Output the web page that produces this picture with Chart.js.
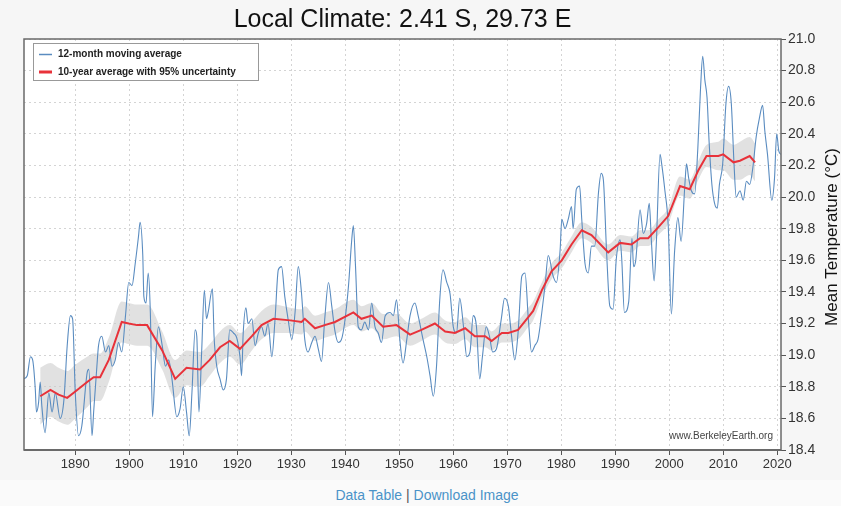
<!DOCTYPE html>
<html>
<head>
<meta charset="utf-8">
<script src="https://cdn.jsdelivr.net/npm/chart.js@4.4.0/dist/chart.umd.min.js"></script>
<style>
  body { margin: 0; background: #fafafa; font-family: "Liberation Sans", Arial, sans-serif; }
  #wrap { position: relative; width: 841px; height: 480px; background: #f6f6f6; }
  #links { position: absolute; top: 487px; left: 0; width: 841px; padding-left: 13px; box-sizing: border-box;
           text-align: center; font-size: 14px; color: #555; }
  #links a { color: #4a93c8; text-decoration: none; }
</style>
</head>
<body>
<div id="wrap"><canvas id="chart" width="841" height="480"></canvas></div>
<div id="links"><a href="#">Data Table</a> | <a href="#">Download Image</a></div>

<script>
  var FONT = '"Liberation Sans", Arial, sans-serif';
  var titleText = 'Local Climate: 2.41 S, 29.73 E';
  var yTitle = 'Mean Temperature (°C)';
  var watermark = 'www.BerkeleyEarth.org';

  var xTicks = [1890, 1900, 1910, 1920, 1930, 1940, 1950, 1960, 1970, 1980, 1990, 2000, 2010, 2020];
  var yTicks = [18.4, 18.6, 18.8, 19.0, 19.2, 19.4, 19.6, 19.8, 20.0, 20.2, 20.4, 20.6, 20.8, 21.0];

  // 12-month moving average
  var blueYears = [
    1880.4, 1881.1, 1881.7, 1882.1, 1882.6, 1882.8, 1883.2, 1883.5,
    1883.8, 1884.4, 1885.1, 1885.7, 1886.3, 1887.2, 1887.9, 1888.5,
    1889.1, 1889.5, 1890.0, 1890.6, 1891.2, 1892.2, 1892.5, 1893.1,
    1893.4, 1894.0, 1894.3, 1894.9, 1895.6, 1896.2, 1896.8, 1897.4,
    1898.0, 1898.6, 1899.3, 1899.9, 1900.5, 1901.1, 1901.7, 1902.0,
    1902.5, 1902.7, 1903.1, 1903.5, 1903.9, 1904.3, 1904.8, 1905.4,
    1906.1, 1906.7, 1907.3, 1907.9, 1908.8, 1909.4, 1910.0, 1910.6,
    1911.1, 1911.6, 1912.2, 1912.5, 1912.9, 1913.4, 1913.9, 1914.3,
    1914.6, 1915.4, 1915.7, 1916.2, 1916.8, 1917.4, 1918.0, 1918.6,
    1919.3, 1919.9, 1920.5, 1920.8, 1921.1, 1921.6, 1922.0, 1922.7,
    1923.3, 1923.9, 1924.5, 1925.1, 1925.7, 1926.4, 1927.0, 1927.6,
    1928.2, 1928.8, 1929.4, 1930.1, 1930.7, 1931.3, 1931.9, 1932.5,
    1933.1, 1933.8, 1934.4, 1935.0, 1935.6, 1936.2, 1936.9, 1937.5,
    1938.1, 1938.7, 1939.3, 1939.9, 1940.6, 1941.2, 1941.5, 1941.9,
    1942.4, 1943.0, 1943.6, 1944.3, 1944.9, 1945.5, 1946.1, 1946.7,
    1947.4, 1948.3, 1948.9, 1949.5, 1950.1, 1950.7, 1951.4, 1952.0,
    1952.9, 1953.5, 1954.4, 1955.1, 1955.7, 1956.3, 1956.9, 1957.5,
    1958.1, 1958.8, 1959.4, 1960.0, 1960.6, 1961.2, 1961.9, 1962.5,
    1963.1, 1963.7, 1964.3, 1964.9, 1965.4, 1966.1, 1966.7, 1967.3,
    1968.0, 1968.9, 1969.5, 1970.2, 1970.8, 1971.4, 1972.0, 1972.7,
    1973.3, 1973.9, 1974.5, 1975.1, 1975.7, 1976.4, 1977.0, 1977.6,
    1978.5, 1979.1, 1979.8, 1980.1, 1980.7, 1981.3, 1981.9, 1982.2,
    1982.8, 1983.4, 1983.8, 1984.4, 1985.0, 1985.6, 1986.2, 1986.9,
    1987.4, 1987.8, 1988.4, 1989.0, 1989.6, 1990.2, 1990.9, 1991.2,
    1991.7, 1992.5, 1993.1, 1993.4, 1993.8, 1994.6, 1995.2, 1995.8,
    1996.3, 1996.7, 1997.2, 1997.6, 1998.3, 1998.6, 1999.2, 1999.8,
    2000.4, 2001.0, 2001.6, 2002.2, 2002.9, 2003.2, 2003.6, 2004.1,
    2004.7, 2005.3, 2005.8, 2006.2, 2006.6, 2007.0, 2007.4, 2007.9,
    2008.4, 2008.9, 2009.3, 2009.9, 2010.5, 2011.0, 2011.5, 2012.0,
    2012.4, 2013.1, 2013.7, 2014.3, 2014.9, 2015.5, 2016.1, 2016.7,
    2017.3, 2017.7, 2018.2, 2019.0, 2019.5, 2019.9, 2020.3, 2020.7
  ];
  var blueTemps = [
    18.85, 18.87, 18.99, 18.97, 18.78, 18.64, 18.70, 18.83,
    18.68, 18.51, 18.76, 18.64, 18.76, 18.60, 18.72, 19.06,
    19.25, 19.23, 18.76, 18.49, 18.55, 18.89, 18.91, 18.49,
    18.64, 18.93, 19.06, 19.12, 19.02, 19.06, 18.93, 18.97,
    19.08, 19.02, 19.25, 19.46, 19.44, 19.58, 19.75, 19.84,
    19.63, 19.37, 19.33, 19.52, 19.27, 18.61, 18.93, 19.18,
    19.06, 18.93, 18.97, 18.85, 18.61, 18.66, 18.80, 18.64,
    18.49, 18.76, 19.16, 19.12, 18.64, 19.02, 19.41, 19.23,
    19.27, 19.42, 19.12, 18.93, 18.85, 18.78, 18.85, 19.16,
    19.14, 19.11, 18.99, 18.87, 19.14, 19.30, 19.20, 19.23,
    19.06, 19.14, 19.18, 19.12, 19.20, 18.99, 19.23, 19.54,
    19.56, 19.37, 19.23, 19.10, 19.27, 19.56, 19.39, 19.10,
    19.02, 19.08, 19.12, 19.04, 18.96, 19.23, 19.46, 19.31,
    19.15, 19.08, 19.10, 19.21, 19.44, 19.73, 19.82, 19.56,
    19.18, 19.16, 19.21, 19.16, 19.33, 19.18, 19.14, 19.08,
    19.25, 19.27, 19.25, 19.35, 19.10, 18.95, 19.10, 19.25,
    19.33, 19.25, 19.10, 18.99, 18.87, 18.74, 18.93, 19.35,
    19.54, 19.46, 19.39, 19.18, 19.14, 19.36, 19.18, 18.99,
    19.02, 19.25, 19.18, 18.85, 18.99, 19.18, 19.12, 19.02,
    19.04, 19.23, 19.36, 19.31, 19.12, 18.97, 19.14, 19.50,
    19.52, 19.23, 19.02, 19.06, 19.10, 19.27, 19.44, 19.63,
    19.50, 19.46, 19.67, 19.86, 19.80, 19.86, 19.94, 19.80,
    20.05, 20.07, 19.86, 19.58, 19.52, 19.69, 19.69, 20.03,
    20.15, 20.11, 19.65, 19.31, 19.29, 19.61, 19.73, 19.61,
    19.27, 19.34, 19.74, 19.56, 19.60, 19.92, 19.77, 19.83,
    19.96, 19.72, 19.47, 19.70, 20.27, 20.21, 20.04, 19.83,
    19.26, 19.66, 19.87, 19.72, 20.08, 20.21, 20.12, 20.04,
    20.02, 20.31, 20.69, 20.89, 20.74, 20.63, 20.34, 20.08,
    19.96, 19.93, 20.08, 20.21, 20.59, 20.70, 20.59, 20.21,
    20.00, 20.04, 19.98, 20.10, 20.08, 20.19, 20.38, 20.50,
    20.58, 20.42, 20.27, 19.98, 20.12, 20.40, 20.29, 20.27
  ];

  // 10-year average and its 95% half-width
  var redYears = [
    1883.5, 1885.4, 1886.9, 1888.5, 1890.0, 1892.2, 1893.4, 1894.6, 1896.2, 1898.6,
    1899.9, 1901.4, 1903.3, 1906.1, 1908.5, 1910.6, 1913.1, 1914.9, 1916.8, 1918.6,
    1920.5, 1922.7, 1924.5, 1926.7, 1929.8, 1931.9, 1932.5, 1934.4, 1936.2, 1938.1,
    1941.5, 1943.0, 1944.9, 1947.0, 1949.5, 1952.0, 1954.1, 1956.6, 1958.5, 1960.3,
    1962.2, 1964.0, 1965.9, 1967.1, 1969.0, 1970.2, 1972.0, 1973.9, 1974.8, 1976.4,
    1978.2, 1980.1, 1981.9, 1983.8, 1985.6, 1988.7, 1990.9, 1993.0, 1994.6, 1996.1,
    1998.0, 1999.8, 2002.0, 2003.8, 2005.4, 2006.9, 2009.1, 2010.0, 2011.9, 2013.1,
    2014.9, 2015.9
  ];
  var redTemps = [
    18.74, 18.78, 18.75, 18.73, 18.77, 18.83, 18.86, 18.86, 18.97, 19.21,
    19.20, 19.19, 19.19, 19.03, 18.85, 18.92, 18.91, 18.97, 19.05, 19.09,
    19.04, 19.12, 19.19, 19.23, 19.22, 19.21, 19.23, 19.17, 19.19, 19.21,
    19.27, 19.23, 19.25, 19.18, 19.19, 19.13, 19.16, 19.20, 19.15, 19.14,
    19.17, 19.12, 19.12, 19.09, 19.14, 19.14, 19.16, 19.24, 19.28, 19.41,
    19.53, 19.60, 19.70, 19.79, 19.76, 19.65, 19.71, 19.70, 19.74, 19.74,
    19.81, 19.88, 20.07, 20.05, 20.17, 20.26, 20.26, 20.27, 20.22, 20.23,
    20.26, 20.22
  ];
  var redUnc = [
    0.18, 0.17, 0.17, 0.17, 0.17, 0.16, 0.15, 0.15, 0.14, 0.13,
    0.13, 0.13, 0.13, 0.12, 0.12, 0.11, 0.11, 0.10, 0.10, 0.10,
    0.10, 0.09, 0.09, 0.09, 0.08, 0.08, 0.08, 0.08, 0.08, 0.08,
    0.08, 0.08, 0.08, 0.08, 0.07, 0.07, 0.07, 0.07, 0.07, 0.07,
    0.07, 0.07, 0.07, 0.06, 0.06, 0.06, 0.06, 0.06, 0.06, 0.05,
    0.05, 0.05, 0.05, 0.05, 0.05, 0.05, 0.05, 0.05, 0.05, 0.05,
    0.05, 0.05, 0.06, 0.06, 0.06, 0.07, 0.09, 0.10, 0.11, 0.12,
    0.12, 0.12
  ];

  var legendItems = [
    { text: '12-month moving average', color: '#5a8cc0', width: 1.5 },
    { text: '10-year average with 95% uncertainty', color: '#e8323a', width: 3 }
  ];

  var blue = blueYears.map(function (x, i) { return { x: x, y: blueTemps[i] }; });
  var red = redYears.map(function (x, i) { return { x: x, y: redTemps[i] }; });
  var upper = redYears.map(function (x, i) { return { x: x, y: redTemps[i] + redUnc[i] }; });
  var lower = redYears.map(function (x, i) { return { x: x, y: redTemps[i] - redUnc[i] }; });

  // white plot area under the grid
  var plotBg = {
    id: 'plotBg',
    beforeDraw: function (chart) {
      var ctx = chart.ctx, a = chart.chartArea;
      ctx.save();
      ctx.fillStyle = '#fff';
      ctx.fillRect(a.left, a.top, a.right - a.left, a.bottom - a.top);
      ctx.restore();
    }
  };

  // frame, title, legend, watermark and right axis title
  var overlay = {
    id: 'overlay',
    afterDraw: function (chart) {
      var ctx = chart.ctx, a = chart.chartArea;
      ctx.save();
      ctx.strokeStyle = '#6a6a6a';
      ctx.lineWidth = 1.5;
      ctx.strokeRect(a.left, a.top, a.right - a.left, a.bottom - a.top);
      ctx.lineWidth = 2;
      ctx.beginPath(); ctx.moveTo(a.left, a.bottom); ctx.lineTo(a.right, a.bottom); ctx.stroke();

      ctx.fillStyle = '#111';
      ctx.font = '25px ' + FONT;
      ctx.textAlign = 'center';
      ctx.textBaseline = 'middle';
      ctx.fillText(titleText, (a.left + a.right) / 2, 20);

      // legend box
      ctx.fillStyle = '#fff';
      ctx.fillRect(33, 43, 225, 37);
      ctx.strokeStyle = '#999';
      ctx.lineWidth = 1;
      ctx.strokeRect(33.5, 43.5, 225, 37);
      ctx.font = 'bold 10px ' + FONT;
      ctx.textAlign = 'left';
      legendItems.forEach(function (it, i) {
        var y = 54.5 + i * 17.5;
        ctx.strokeStyle = it.color;
        ctx.lineWidth = it.width;
        ctx.beginPath(); ctx.moveTo(39, y); ctx.lineTo(52, y); ctx.stroke();
        ctx.fillStyle = '#222';
        ctx.fillText(it.text, 58, y);
      });

      ctx.font = '10px ' + FONT;
      ctx.fillStyle = '#444';
      ctx.textAlign = 'right';
      ctx.fillText(watermark, a.right - 8, 436);

      ctx.translate(832, 237);
      ctx.rotate(-Math.PI / 2);
      ctx.textAlign = 'center';
      ctx.font = '17px ' + FONT;
      ctx.fillStyle = '#111';
      ctx.fillText(yTitle, 0, 0);
      ctx.restore();
    }
  };

  var ctx = document.getElementById('chart').getContext('2d');
  var chart = new Chart(ctx, {
    type: 'line',
    data: {
      datasets: [
        { label: '10-year average', data: red, borderColor: '#e8323a', borderWidth: 2,
          pointRadius: 0, tension: 0, fill: false },
        { label: '12-month moving average', data: blue, borderColor: '#5a8cc0', borderWidth: 1.1,
          pointRadius: 0, cubicInterpolationMode: 'monotone', fill: false },
        { label: 'upper', data: upper, borderWidth: 0, borderColor: 'rgba(0,0,0,0)', pointRadius: 0,
          cubicInterpolationMode: 'monotone', fill: '+1', backgroundColor: 'rgba(200,200,200,0.55)' },
        { label: 'lower', data: lower, borderWidth: 0, borderColor: 'rgba(0,0,0,0)', pointRadius: 0,
          cubicInterpolationMode: 'monotone', fill: false }
      ]
    },
    options: {
      responsive: false,
      animation: false,
      layout: { padding: { left: 24, top: 39, right: 0, bottom: 0 } },
      plugins: { legend: { display: false }, tooltip: { enabled: false } },
      scales: {
        x: {
          type: 'linear', min: 1880.5, max: 2020.7,
          afterBuildTicks: function (s) { s.ticks = xTicks.map(function (v) { return { value: v }; }); },
          afterFit: function (s) { s.height = 30; },
          grid: { color: '#d4d4d4', tickColor: '#555', tickLength: 5, tickBorderDash: [] },
          border: { display: false, dash: [2, 3] },
          ticks: { font: { size: 13, family: FONT }, color: '#333', padding: 2, maxRotation: 0, autoSkip: false,
                   callback: function (v) { return String(v); } }
        },
        y: {
          position: 'right', min: 18.4, max: 21.0,
          afterBuildTicks: function (s) { s.ticks = yTicks.map(function (v) { return { value: v }; }); },
          afterFit: function (s) { s.width = 60; },
          grid: { color: '#d4d4d4', tickColor: '#555', tickLength: 5, tickBorderDash: [] },
          border: { display: false, dash: [2, 3] },
          ticks: { font: { size: 14, family: FONT }, color: '#333', padding: 2, autoSkip: false,
                   callback: function (v) { return Number(v).toFixed(1); } }
        }
      }
    },
    plugins: [plotBg, overlay]
  });
</script>
</body>
</html>
